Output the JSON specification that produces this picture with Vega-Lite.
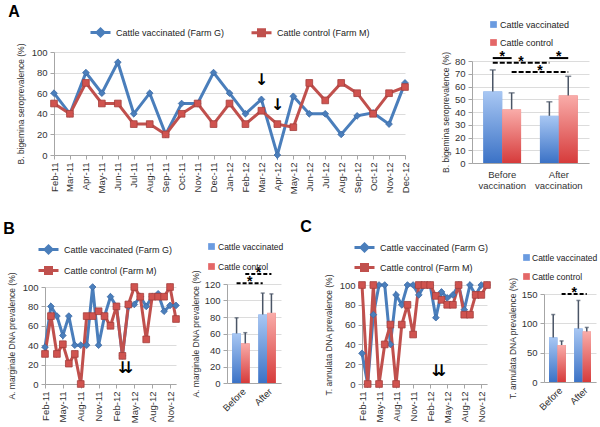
{
"$schema": "https://vega.github.io/schema/vega-lite/v6.json",
"background": "white",
"padding": {"left": 3, "top": 4, "right": 5, "bottom": 5},
"config": {
  "font": "Liberation Sans",
  "view": {"stroke": null},
  "axis": {"labelFontSize": 9.5, "titleFontSize": 8.5, "titleFontWeight": "normal", "labelColor": "#333", "titleColor": "#333", "domainColor": "#a6a6a6", "tickColor": "#a6a6a6", "gridColor": "#dcdcdc", "labelPadding": 3, "tickSize": 4, "labelOverlap": false, "labelBound": false, "labelFlush": false},
  "legend": {"labelFontSize": 9, "labelColor": "#222", "padding": 0},
  "title": {"fontSize": 16, "fontWeight": "bold", "anchor": "start", "frame": "bounds", "color": "#000", "offset": 6}
},
"datasets": {
  "a": [
    {"month":"Feb-11","series":"Cattle vaccinated (Farm G)","value":60},{"month":"Mar-11","series":"Cattle vaccinated (Farm G)","value":40},{"month":"Apr-11","series":"Cattle vaccinated (Farm G)","value":80},{"month":"May-11","series":"Cattle vaccinated (Farm G)","value":60},{"month":"Jun-11","series":"Cattle vaccinated (Farm G)","value":90},{"month":"Jul-11","series":"Cattle vaccinated (Farm G)","value":40},{"month":"Aug-11","series":"Cattle vaccinated (Farm G)","value":60},{"month":"Sep-11","series":"Cattle vaccinated (Farm G)","value":20},{"month":"Oct-11","series":"Cattle vaccinated (Farm G)","value":50},{"month":"Nov-11","series":"Cattle vaccinated (Farm G)","value":50},{"month":"Dec-11","series":"Cattle vaccinated (Farm G)","value":80},{"month":"Jan-12","series":"Cattle vaccinated (Farm G)","value":60},{"month":"Feb-12","series":"Cattle vaccinated (Farm G)","value":40},{"month":"Mar-12","series":"Cattle vaccinated (Farm G)","value":54},{"month":"Apr-12","series":"Cattle vaccinated (Farm G)","value":0},{"month":"May-12","series":"Cattle vaccinated (Farm G)","value":57},{"month":"Jun-12","series":"Cattle vaccinated (Farm G)","value":40},{"month":"Jul-12","series":"Cattle vaccinated (Farm G)","value":40},{"month":"Aug-12","series":"Cattle vaccinated (Farm G)","value":20},{"month":"Sep-12","series":"Cattle vaccinated (Farm G)","value":38},{"month":"Oct-12","series":"Cattle vaccinated (Farm G)","value":41},{"month":"Nov-12","series":"Cattle vaccinated (Farm G)","value":30},{"month":"Dec-12","series":"Cattle vaccinated (Farm G)","value":70},
    {"month":"Feb-11","series":"Cattle control (Farm M)","value":50},{"month":"Mar-11","series":"Cattle control (Farm M)","value":40},{"month":"Apr-11","series":"Cattle control (Farm M)","value":70},{"month":"May-11","series":"Cattle control (Farm M)","value":50},{"month":"Jun-11","series":"Cattle control (Farm M)","value":50},{"month":"Jul-11","series":"Cattle control (Farm M)","value":30},{"month":"Aug-11","series":"Cattle control (Farm M)","value":30},{"month":"Sep-11","series":"Cattle control (Farm M)","value":20},{"month":"Oct-11","series":"Cattle control (Farm M)","value":40},{"month":"Nov-11","series":"Cattle control (Farm M)","value":50},{"month":"Dec-11","series":"Cattle control (Farm M)","value":30},{"month":"Jan-12","series":"Cattle control (Farm M)","value":50},{"month":"Feb-12","series":"Cattle control (Farm M)","value":30},{"month":"Mar-12","series":"Cattle control (Farm M)","value":43},{"month":"Apr-12","series":"Cattle control (Farm M)","value":30},{"month":"May-12","series":"Cattle control (Farm M)","value":27},{"month":"Jun-12","series":"Cattle control (Farm M)","value":70},{"month":"Jul-12","series":"Cattle control (Farm M)","value":53},{"month":"Aug-12","series":"Cattle control (Farm M)","value":70},{"month":"Sep-12","series":"Cattle control (Farm M)","value":60},{"month":"Oct-12","series":"Cattle control (Farm M)","value":40},{"month":"Nov-12","series":"Cattle control (Farm M)","value":60},{"month":"Dec-12","series":"Cattle control (Farm M)","value":66}
  ],
  "b": [
    {"month":"Feb-11","series":"Cattle vaccinated (Farm G)","value":38},{"month":"Mar-11","series":"Cattle vaccinated (Farm G)","value":80},{"month":"Apr-11","series":"Cattle vaccinated (Farm G)","value":70},{"month":"May-11","series":"Cattle vaccinated (Farm G)","value":50},{"month":"Jun-11","series":"Cattle vaccinated (Farm G)","value":70},{"month":"Jul-11","series":"Cattle vaccinated (Farm G)","value":40},{"month":"Aug-11","series":"Cattle vaccinated (Farm G)","value":40},{"month":"Sep-11","series":"Cattle vaccinated (Farm G)","value":40},{"month":"Oct-11","series":"Cattle vaccinated (Farm G)","value":100},{"month":"Nov-11","series":"Cattle vaccinated (Farm G)","value":40},{"month":"Dec-11","series":"Cattle vaccinated (Farm G)","value":70},{"month":"Jan-12","series":"Cattle vaccinated (Farm G)","value":90},{"month":"Feb-12","series":"Cattle vaccinated (Farm G)","value":80},{"month":"Mar-12","series":"Cattle vaccinated (Farm G)","value":29},{"month":"Apr-12","series":"Cattle vaccinated (Farm G)","value":80},{"month":"May-12","series":"Cattle vaccinated (Farm G)","value":82},{"month":"Jun-12","series":"Cattle vaccinated (Farm G)","value":90},{"month":"Jul-12","series":"Cattle vaccinated (Farm G)","value":80},{"month":"Aug-12","series":"Cattle vaccinated (Farm G)","value":90},{"month":"Sep-12","series":"Cattle vaccinated (Farm G)","value":93},{"month":"Oct-12","series":"Cattle vaccinated (Farm G)","value":75},{"month":"Nov-12","series":"Cattle vaccinated (Farm G)","value":81},{"month":"Dec-12","series":"Cattle vaccinated (Farm G)","value":81},
    {"month":"Feb-11","series":"Cattle control (Farm M)","value":31},{"month":"Mar-11","series":"Cattle control (Farm M)","value":70},{"month":"Apr-11","series":"Cattle control (Farm M)","value":31},{"month":"May-11","series":"Cattle control (Farm M)","value":41},{"month":"Jun-11","series":"Cattle control (Farm M)","value":21},{"month":"Jul-11","series":"Cattle control (Farm M)","value":31},{"month":"Aug-11","series":"Cattle control (Farm M)","value":0},{"month":"Sep-11","series":"Cattle control (Farm M)","value":70},{"month":"Oct-11","series":"Cattle control (Farm M)","value":70},{"month":"Nov-11","series":"Cattle control (Farm M)","value":75},{"month":"Dec-11","series":"Cattle control (Farm M)","value":70},{"month":"Jan-12","series":"Cattle control (Farm M)","value":60},{"month":"Feb-12","series":"Cattle control (Farm M)","value":80},{"month":"Mar-12","series":"Cattle control (Farm M)","value":29},{"month":"Apr-12","series":"Cattle control (Farm M)","value":82},{"month":"May-12","series":"Cattle control (Farm M)","value":100},{"month":"Jun-12","series":"Cattle control (Farm M)","value":90},{"month":"Jul-12","series":"Cattle control (Farm M)","value":46},{"month":"Aug-12","series":"Cattle control (Farm M)","value":90},{"month":"Sep-12","series":"Cattle control (Farm M)","value":90},{"month":"Oct-12","series":"Cattle control (Farm M)","value":90},{"month":"Nov-12","series":"Cattle control (Farm M)","value":100},{"month":"Dec-12","series":"Cattle control (Farm M)","value":67}
  ],
  "c": [
    {"month":"Feb-11","series":"Cattle vaccinated (Farm G)","value":31},{"month":"Mar-11","series":"Cattle vaccinated (Farm G)","value":0},{"month":"Apr-11","series":"Cattle vaccinated (Farm G)","value":70},{"month":"May-11","series":"Cattle vaccinated (Farm G)","value":100},{"month":"Jun-11","series":"Cattle vaccinated (Farm G)","value":100},{"month":"Jul-11","series":"Cattle vaccinated (Farm G)","value":40},{"month":"Aug-11","series":"Cattle vaccinated (Farm G)","value":90},{"month":"Sep-11","series":"Cattle vaccinated (Farm G)","value":80},{"month":"Oct-11","series":"Cattle vaccinated (Farm G)","value":100},{"month":"Nov-11","series":"Cattle vaccinated (Farm G)","value":100},{"month":"Dec-11","series":"Cattle vaccinated (Farm G)","value":90},{"month":"Jan-12","series":"Cattle vaccinated (Farm G)","value":100},{"month":"Feb-12","series":"Cattle vaccinated (Farm G)","value":100},{"month":"Mar-12","series":"Cattle vaccinated (Farm G)","value":67},{"month":"Apr-12","series":"Cattle vaccinated (Farm G)","value":93},{"month":"May-12","series":"Cattle vaccinated (Farm G)","value":87},{"month":"Jun-12","series":"Cattle vaccinated (Farm G)","value":90},{"month":"Jul-12","series":"Cattle vaccinated (Farm G)","value":100},{"month":"Aug-12","series":"Cattle vaccinated (Farm G)","value":75},{"month":"Sep-12","series":"Cattle vaccinated (Farm G)","value":100},{"month":"Oct-12","series":"Cattle vaccinated (Farm G)","value":90},{"month":"Nov-12","series":"Cattle vaccinated (Farm G)","value":100},{"month":"Dec-12","series":"Cattle vaccinated (Farm G)","value":100},
    {"month":"Feb-11","series":"Cattle control (Farm M)","value":100},{"month":"Mar-11","series":"Cattle control (Farm M)","value":0},{"month":"Apr-11","series":"Cattle control (Farm M)","value":100},{"month":"May-11","series":"Cattle control (Farm M)","value":0},{"month":"Jun-11","series":"Cattle control (Farm M)","value":40},{"month":"Jul-11","series":"Cattle control (Farm M)","value":60},{"month":"Aug-11","series":"Cattle control (Farm M)","value":0},{"month":"Sep-11","series":"Cattle control (Farm M)","value":60},{"month":"Oct-11","series":"Cattle control (Farm M)","value":80},{"month":"Nov-11","series":"Cattle control (Farm M)","value":50},{"month":"Dec-11","series":"Cattle control (Farm M)","value":100},{"month":"Jan-12","series":"Cattle control (Farm M)","value":100},{"month":"Feb-12","series":"Cattle control (Farm M)","value":100},{"month":"Mar-12","series":"Cattle control (Farm M)","value":89},{"month":"Apr-12","series":"Cattle control (Farm M)","value":85},{"month":"May-12","series":"Cattle control (Farm M)","value":80},{"month":"Jun-12","series":"Cattle control (Farm M)","value":80},{"month":"Jul-12","series":"Cattle control (Farm M)","value":100},{"month":"Aug-12","series":"Cattle control (Farm M)","value":70},{"month":"Sep-12","series":"Cattle control (Farm M)","value":70},{"month":"Oct-12","series":"Cattle control (Farm M)","value":90},{"month":"Nov-12","series":"Cattle control (Farm M)","value":90},{"month":"Dec-12","series":"Cattle control (Farm M)","value":100}
  ],
  "arrA": [{"month":"Mar-12","value":73},{"month":"Apr-12","value":49}],
  "arrB": [{"month":"Mar-12","value":16},{"month":"Apr-12","value":16}],
  "arrC": [{"month":"Mar-12","value":13},{"month":"Apr-12","value":13}],
  "abar": [
    {"slot":"Bv","series":"Cattle vaccinated","value":56,"upper":73},
    {"slot":"Bc","series":"Cattle control","value":42,"upper":55},
    {"slot":"Av","series":"Cattle vaccinated","value":37,"upper":48},
    {"slot":"Ac","series":"Cattle control","value":53,"upper":68}
  ],
  "bbar": [
    {"slot":"Bv","series":"Cattle vaccinated","value":60,"upper":79},
    {"slot":"Bc","series":"Cattle control","value":48,"upper":61},
    {"slot":"Av","series":"Cattle vaccinated","value":83,"upper":109},
    {"slot":"Ac","series":"Cattle control","value":85,"upper":108}
  ],
  "cbar": [
    {"slot":"Bv","series":"Cattle vaccinated","value":76,"upper":115},
    {"slot":"Bc","series":"Cattle control","value":63,"upper":70},
    {"slot":"Av","series":"Cattle vaccinated","value":91,"upper":139},
    {"slot":"Ac","series":"Cattle control","value":86,"upper":93}
  ],
  "asig": [
    {"from":"Bv","to":"Bc","value":82.3,"kind":"solid"},
    {"from":"Av","to":"Ac","value":82.3,"kind":"solid"},
    {"from":"Bv","to":"Av","value":78.7,"kind":"dashed"},
    {"from":"Bc","to":"Ac","value":71.4,"kind":"dashed"}
  ],
  "astar": [{"at":"Bv","value":82.3},{"at":"Av","value":82.3},{"at":"Bc","value":78.7},{"at":"gap","value":71.4}],
  "bsig": [
    {"from":"Bv","to":"Av","value":121,"kind":"dashed"},
    {"from":"Bc","to":"Ac","value":132,"kind":"dashed"}
  ],
  "bstar": [{"at":"Bc","value":121},{"at":"gap","value":132}],
  "csig": [{"from":"Bc","to":"Ac","value":150,"kind":"dashed"}],
  "cstar": [{"at":"gap","value":150}]
},
"vconcat": [
 {
  "hconcat": [
  {
    "title": {"text": "A", "dx": -8},
    "width": 376, "height": 111,
    "encoding": {
      "x": {"field": "month", "type": "ordinal", "scale": {"type": "point", "padding": 0, "range": [9, 360], "domain": ["Feb-11","Mar-11","Apr-11","May-11","Jun-11","Jul-11","Aug-11","Sep-11","Oct-11","Nov-11","Dec-11","Jan-12","Feb-12","Mar-12","Apr-12","May-12","Jun-12","Jul-12","Aug-12","Sep-12","Oct-12","Nov-12","Dec-12"]}, "axis": {"title": null, "labelAngle": -90, "grid": false, "offset": -8, "labelOverlap": false}},
      "y": {"field": "value", "type": "quantitative", "scale": {"domain": [0, 100], "range": [103, 0]}, "axis": {"title": "B. bigemina seroprevalence (%)", "values": [0,20,40,60,80,100], "grid": true, "titlePadding": 6, "offset": -9, "labelOverlap": false}}
    },
    "layer": [
      {"data": {"name": "a"}, "mark": {"type": "line", "strokeWidth": 3},
       "encoding": {
         "color": {"field": "series", "type": "nominal", "scale": {"domain": ["Cattle vaccinated (Farm G)", "Cattle control (Farm M)"], "range": ["#4a7ebb", "#c0504d"]},
           "legend": {"orient": "none", "legendX": 49, "legendY": -26, "direction": "horizontal", "title": null, "symbolSize": 100, "symbolStrokeWidth": 3, "columnPadding": 20, "labelOffset": 9,
             "encode": {"symbols": {"update": {
               "shape": {"signal": "datum.value === 'Cattle vaccinated (Farm G)' ? 'M-2,0H2M0,-0.7L0.7,0L0,0.7L-0.7,0Z' : 'M-2,0H2M-0.6,-0.6H0.6V0.6H-0.6Z'"},
               "fill": {"signal": "datum.value === 'Cattle vaccinated (Farm G)' ? '#4a7ebb' : '#c0504d'"},
               "stroke": {"signal": "datum.value === 'Cattle vaccinated (Farm G)' ? '#4a7ebb' : '#c0504d'"},
               "opacity": {"value": 1}}}}}}
       }},
      {"data": {"name": "a"}, "transform": [{"filter": "datum.series === 'Cattle vaccinated (Farm G)'"}], "mark": {"type": "point", "shape": "diamond", "filled": true, "opacity": 1, "size": 45, "color": "#4a7ebb", "stroke": "#3d6ba6", "strokeWidth": 0.8}},
      {"data": {"name": "a"}, "transform": [{"filter": "datum.series === 'Cattle control (Farm M)'"}], "mark": {"type": "point", "shape": "square", "filled": true, "opacity": 1, "size": 45, "color": "#d0534f", "stroke": "#a33f3c", "strokeWidth": 0.8}},
      {"data": {"name": "arrA"}, "mark": {"type": "text", "text": "↓", "font": "DejaVu Sans", "fontWeight": "bold", "fontSize": 16, "color": "black", "baseline": "middle"}}
    ]
  },
  {
    "width": 117, "height": 111,
    "encoding": {
      "y": {"field": "value", "type": "quantitative", "scale": {"domain": [0, 80], "range": [111, 9]}, "axis": {"title": "B. bigemina seroprevalence (%)", "values": [0,10,20,30,40,50,60,70,80], "grid": true, "labelOverlap": false}}
    },
    "layer": [
      {"data": {"name": "abar"}, "mark": {"type": "bar"},
       "encoding": {
         "x": {"field": "slot", "type": "nominal", "scale": {"domain": ["Bv","Bc","gap","Av","Ac"], "paddingInner": 0, "paddingOuter": 0.6}, "axis": {"title": null, "ticks": false, "labelAngle": 0, "labelOffset": -9.4, "labelPadding": 6, "labelOverlap": false, "labelExpr": "datum.value === 'Bc' ? ['Before', 'vaccination'] : datum.value === 'Ac' ? ['After', 'vaccination'] : ''"}},
         "color": {"field": "series", "type": "nominal", "scale": {"domain": ["Cattle vaccinated", "Cattle control"], "range": ["#6a9be0", "#e46767"]},
           "legend": {"orient": "none", "legendX": 17, "legendY": -32, "direction": "vertical", "title": null, "symbolType": "square", "symbolSize": 45, "rowPadding": 8, "labelOffset": 2}}
       }},
      {"data": {"name": "abar"}, "mark": {"type": "bar"},
       "encoding": {
         "x": {"field": "slot", "type": "nominal", "scale": {"domain": ["Bv","Bc","gap","Av","Ac"], "paddingInner": 0, "paddingOuter": 0.6}},
         "fill": {"condition": {"test": "datum.series === 'Cattle vaccinated'", "value": {"gradient": "linear", "x1": 0, "y1": 0, "x2": 0, "y2": 1, "stops": [{"offset": 0, "color": "#a8c7f3"}, {"offset": 1, "color": "#3b72c6"}]}},
                  "value": {"gradient": "linear", "x1": 0, "y1": 0, "x2": 0, "y2": 1, "stops": [{"offset": 0, "color": "#f9aca9"}, {"offset": 1, "color": "#d63b3b"}]}}
       }},
      {"data": {"name": "abar"}, "mark": {"type": "rule", "color": "#4a5566", "strokeWidth": 1.5},
       "encoding": {
         "x": {"field": "slot", "type": "nominal", "scale": {"domain": ["Bv","Bc","gap","Av","Ac"], "paddingInner": 0, "paddingOuter": 0.6}},
         "y2": {"field": "upper"}
       }},
      {"data": {"name": "abar"}, "transform": [{"fold": ["upper"], "as": ["key", "value"]}], "mark": {"type": "tick", "color": "#4a5566", "thickness": 1.5, "size": 6},
       "encoding": {
         "x": {"field": "slot", "type": "nominal", "scale": {"domain": ["Bv","Bc","gap","Av","Ac"], "paddingInner": 0, "paddingOuter": 0.6}}
       }},
      {"data": {"name": "asig"}, "transform": [{"filter": "datum.kind === 'solid'"}], "mark": {"type": "rule", "color": "black", "strokeWidth": 2},
       "encoding": {
         "x": {"field": "from", "type": "nominal", "bandPosition": 0.5, "scale": {"domain": ["Bv","Bc","gap","Av","Ac"], "paddingInner": 0, "paddingOuter": 0.6}},
         "x2": {"field": "to", "bandPosition": 0.5}
       }},
      {"data": {"name": "asig"}, "transform": [{"filter": "datum.kind === 'dashed'"}], "mark": {"type": "rule", "color": "black", "strokeWidth": 2, "strokeDash": [5, 2]},
       "encoding": {
         "x": {"field": "from", "type": "nominal", "bandPosition": 0.5, "scale": {"domain": ["Bv","Bc","gap","Av","Ac"], "paddingInner": 0, "paddingOuter": 0.6}},
         "x2": {"field": "to", "bandPosition": 0.5}
       }},
      {"data": {"name": "astar"}, "mark": {"type": "text", "text": "*", "fontSize": 14, "fontWeight": "bold", "baseline": "middle", "dy": -1, "color": "black"},
       "encoding": {
         "x": {"field": "at", "type": "nominal", "bandPosition": 1, "scale": {"domain": ["Bv","Bc","gap","Av","Ac"], "paddingInner": 0, "paddingOuter": 0.6}}
       }}
    ]
  }
  ],
  "spacing": 51, "bounds": "flush",
  "resolve": {"scale": {"color": "independent"}, "legend": {"color": "independent"}}
 },
 {
  "hconcat": [
  {
    "title": {"text": "B", "dx": -4},
    "width": 131, "height": 100,
    "encoding": {
      "x": {"field": "month", "type": "ordinal", "scale": {"type": "point", "padding": 0, "domain": ["Feb-11","Mar-11","Apr-11","May-11","Jun-11","Jul-11","Aug-11","Sep-11","Oct-11","Nov-11","Dec-11","Jan-12","Feb-12","Mar-12","Apr-12","May-12","Jun-12","Jul-12","Aug-12","Sep-12","Oct-12","Nov-12","Dec-12"]}, "axis": {"title": null, "labelAngle": -90, "grid": false, "labelOverlap": false, "values": ["Feb-11","May-11","Aug-11","Nov-11","Feb-12","May-12","Aug-12","Nov-12"]}},
      "y": {"field": "value", "type": "quantitative", "scale": {"domain": [0, 100], "range": [100, 3]}, "axis": {"title": "A. marginale DNA prevalence (%)", "values": [0,20,40,60,80,100], "grid": true, "titlePadding": 6, "labelOverlap": false}}
    },
    "layer": [
      {"data": {"name": "b"}, "mark": {"type": "line", "strokeWidth": 3},
       "encoding": {
         "color": {"field": "series", "type": "nominal", "scale": {"domain": ["Cattle vaccinated (Farm G)", "Cattle control (Farm M)"], "range": ["#4a7ebb", "#c0504d"]},
           "legend": {"orient": "none", "legendX": -3, "legendY": -41, "direction": "vertical", "title": null, "symbolSize": 100, "symbolStrokeWidth": 3, "rowPadding": 2, "labelOffset": 9,
             "encode": {"symbols": {"update": {
               "shape": {"signal": "datum.value === 'Cattle vaccinated (Farm G)' ? 'M-2,0H2M0,-0.7L0.7,0L0,0.7L-0.7,0Z' : 'M-2,0H2M-0.6,-0.6H0.6V0.6H-0.6Z'"},
               "fill": {"signal": "datum.value === 'Cattle vaccinated (Farm G)' ? '#4a7ebb' : '#c0504d'"},
               "stroke": {"signal": "datum.value === 'Cattle vaccinated (Farm G)' ? '#4a7ebb' : '#c0504d'"},
               "opacity": {"value": 1}}}}}}
       }},
      {"data": {"name": "b"}, "transform": [{"filter": "datum.series === 'Cattle vaccinated (Farm G)'"}], "mark": {"type": "point", "shape": "diamond", "filled": true, "opacity": 1, "size": 45, "color": "#4a7ebb", "stroke": "#3d6ba6", "strokeWidth": 0.8}},
      {"data": {"name": "b"}, "transform": [{"filter": "datum.series === 'Cattle control (Farm M)'"}], "mark": {"type": "point", "shape": "square", "filled": true, "opacity": 1, "size": 45, "color": "#d0534f", "stroke": "#a33f3c", "strokeWidth": 0.8}},
      {"data": {"name": "arrB"}, "mark": {"type": "text", "text": "↓", "font": "DejaVu Sans", "fontWeight": "bold", "fontSize": 16, "color": "black", "baseline": "middle"}}
    ]
  },
  {
    "width": 84, "height": 99,
    "encoding": {
      "y": {"field": "value", "type": "quantitative", "scale": {"domain": [0, 120]}, "axis": {"title": "A. marginale DNA prevalence (%)", "values": [0,20,40,60,80,100,120], "grid": true, "labelOverlap": false}}
    },
    "layer": [
      {"data": {"name": "bbar"}, "mark": {"type": "bar"},
       "encoding": {
         "x": {"field": "slot", "type": "nominal", "scale": {"domain": ["Bv","Bc","gap","Av","Ac"], "range": [0, 54], "paddingInner": 0, "paddingOuter": 0.6}, "axis": {"title": null, "ticks": false, "labelAngle": -45, "labelAlign": "right", "labelOffset": -4.4, "labelOverlap": false, "labelExpr": "datum.value === 'Bc' ? 'Before' : datum.value === 'Ac' ? 'After' : ''"}},
         "color": {"field": "series", "type": "nominal", "scale": {"domain": ["Cattle vaccinated", "Cattle control"], "range": ["#6a9be0", "#e46767"]},
           "legend": {"orient": "none", "legendX": -20, "legendY": -42, "direction": "vertical", "title": null, "symbolType": "square", "symbolSize": 45, "rowPadding": 11, "labelOffset": 2, "labelFontSize": 8.5}}
       }},
      {"data": {"name": "bbar"}, "mark": {"type": "bar"},
       "encoding": {
         "x": {"field": "slot", "type": "nominal", "scale": {"domain": ["Bv","Bc","gap","Av","Ac"], "range": [0, 54], "paddingInner": 0, "paddingOuter": 0.6}},
         "fill": {"condition": {"test": "datum.series === 'Cattle vaccinated'", "value": {"gradient": "linear", "x1": 0, "y1": 0, "x2": 0, "y2": 1, "stops": [{"offset": 0, "color": "#a8c7f3"}, {"offset": 1, "color": "#3b72c6"}]}},
                  "value": {"gradient": "linear", "x1": 0, "y1": 0, "x2": 0, "y2": 1, "stops": [{"offset": 0, "color": "#f9aca9"}, {"offset": 1, "color": "#d63b3b"}]}}
       }},
      {"data": {"name": "bbar"}, "mark": {"type": "rule", "color": "#4a5566", "strokeWidth": 1.5},
       "encoding": {
         "x": {"field": "slot", "type": "nominal", "scale": {"domain": ["Bv","Bc","gap","Av","Ac"], "range": [0, 54], "paddingInner": 0, "paddingOuter": 0.6}},
         "y2": {"field": "upper"}
       }},
      {"data": {"name": "bbar"}, "transform": [{"fold": ["upper"], "as": ["key", "value"]}], "mark": {"type": "tick", "color": "#4a5566", "thickness": 1.5, "size": 4},
       "encoding": {
         "x": {"field": "slot", "type": "nominal", "scale": {"domain": ["Bv","Bc","gap","Av","Ac"], "range": [0, 54], "paddingInner": 0, "paddingOuter": 0.6}}
       }},
      {"data": {"name": "bsig"}, "mark": {"type": "rule", "color": "black", "strokeWidth": 2, "strokeDash": [4, 2]},
       "encoding": {
         "x": {"field": "from", "type": "nominal", "bandPosition": 0.5, "scale": {"domain": ["Bv","Bc","gap","Av","Ac"], "range": [0, 54], "paddingInner": 0, "paddingOuter": 0.6}},
         "x2": {"field": "to", "bandPosition": 0.5}
       }},
      {"data": {"name": "bstar"}, "mark": {"type": "text", "text": "*", "fontSize": 14, "fontWeight": "bold", "baseline": "middle", "dy": -1, "color": "black"},
       "encoding": {
         "x": {"field": "at", "type": "nominal", "bandPosition": 1, "scale": {"domain": ["Bv","Bc","gap","Av","Ac"], "range": [0, 54], "paddingInner": 0, "paddingOuter": 0.6}}
       }}
    ]
  },
  {
    "title": {"text": "C", "dx": -24},
    "width": 131, "height": 100,
    "encoding": {
      "x": {"field": "month", "type": "ordinal", "scale": {"type": "point", "padding": 0, "range": [0, 125], "domain": ["Feb-11","Mar-11","Apr-11","May-11","Jun-11","Jul-11","Aug-11","Sep-11","Oct-11","Nov-11","Dec-11","Jan-12","Feb-12","Mar-12","Apr-12","May-12","Jun-12","Jul-12","Aug-12","Sep-12","Oct-12","Nov-12","Dec-12"]}, "axis": {"title": null, "labelAngle": -90, "grid": false, "labelOverlap": false, "values": ["Feb-11","May-11","Aug-11","Nov-11","Feb-12","May-12","Aug-12","Nov-12"]}},
      "y": {"field": "value", "type": "quantitative", "scale": {"domain": [0, 100], "range": [100, 1]}, "axis": {"title": "T. annulata DNA prevalence (%)", "values": [0,20,40,60,80,100], "grid": true, "titlePadding": 6, "labelOverlap": false}}
    },
    "layer": [
      {"data": {"name": "c"}, "mark": {"type": "line", "strokeWidth": 3},
       "encoding": {
         "color": {"field": "series", "type": "nominal", "scale": {"domain": ["Cattle vaccinated (Farm G)", "Cattle control (Farm M)"], "range": ["#4a7ebb", "#c0504d"]},
           "legend": {"orient": "none", "legendX": -4, "legendY": -43, "direction": "vertical", "title": null, "symbolSize": 100, "symbolStrokeWidth": 3, "rowPadding": 1, "labelOffset": 9,
             "encode": {"symbols": {"update": {
               "shape": {"signal": "datum.value === 'Cattle vaccinated (Farm G)' ? 'M-2,0H2M0,-0.7L0.7,0L0,0.7L-0.7,0Z' : 'M-2,0H2M-0.6,-0.6H0.6V0.6H-0.6Z'"},
               "fill": {"signal": "datum.value === 'Cattle vaccinated (Farm G)' ? '#4a7ebb' : '#c0504d'"},
               "stroke": {"signal": "datum.value === 'Cattle vaccinated (Farm G)' ? '#4a7ebb' : '#c0504d'"},
               "opacity": {"value": 1}}}}}}
       }},
      {"data": {"name": "c"}, "transform": [{"filter": "datum.series === 'Cattle vaccinated (Farm G)'"}], "mark": {"type": "point", "shape": "diamond", "filled": true, "opacity": 1, "size": 45, "color": "#4a7ebb", "stroke": "#3d6ba6", "strokeWidth": 0.8}},
      {"data": {"name": "c"}, "transform": [{"filter": "datum.series === 'Cattle control (Farm M)'"}], "mark": {"type": "point", "shape": "square", "filled": true, "opacity": 1, "size": 45, "color": "#d0534f", "stroke": "#a33f3c", "strokeWidth": 0.8}},
      {"data": {"name": "arrC"}, "mark": {"type": "text", "text": "↓", "font": "DejaVu Sans", "fontWeight": "bold", "fontSize": 16, "color": "black", "baseline": "middle"}}
    ]
  },
  {
    "width": 52, "height": 98,
    "encoding": {
      "y": {"field": "value", "type": "quantitative", "scale": {"domain": [0, 150], "range": [98, 10]}, "axis": {"title": "T. annulata DNA prevalence (%)", "values": [0,50,100,150], "grid": true, "labelOverlap": false}}
    },
    "layer": [
      {"data": {"name": "cbar"}, "mark": {"type": "bar"},
       "encoding": {
         "x": {"field": "slot", "type": "nominal", "scale": {"domain": ["Bv","Bc","gap","Av","Ac"], "paddingInner": 0, "paddingOuter": 0.6}, "axis": {"title": null, "ticks": false, "labelAngle": -45, "labelAlign": "right", "labelOffset": -4.2, "labelOverlap": false, "labelExpr": "datum.value === 'Bc' ? 'Before' : datum.value === 'Ac' ? 'After' : ''"}},
         "color": {"field": "series", "type": "nominal", "scale": {"domain": ["Cattle vaccinated", "Cattle control"], "range": ["#6a9be0", "#e46767"]},
           "legend": {"orient": "none", "legendX": -22, "legendY": -31, "direction": "vertical", "title": null, "symbolType": "square", "symbolSize": 45, "rowPadding": 10, "labelOffset": 1, "labelFontSize": 8.5}}
       }},
      {"data": {"name": "cbar"}, "mark": {"type": "bar"},
       "encoding": {
         "x": {"field": "slot", "type": "nominal", "scale": {"domain": ["Bv","Bc","gap","Av","Ac"], "paddingInner": 0, "paddingOuter": 0.6}},
         "fill": {"condition": {"test": "datum.series === 'Cattle vaccinated'", "value": {"gradient": "linear", "x1": 0, "y1": 0, "x2": 0, "y2": 1, "stops": [{"offset": 0, "color": "#a8c7f3"}, {"offset": 1, "color": "#3b72c6"}]}},
                  "value": {"gradient": "linear", "x1": 0, "y1": 0, "x2": 0, "y2": 1, "stops": [{"offset": 0, "color": "#f9aca9"}, {"offset": 1, "color": "#d63b3b"}]}}
       }},
      {"data": {"name": "cbar"}, "mark": {"type": "rule", "color": "#4a5566", "strokeWidth": 1.5},
       "encoding": {
         "x": {"field": "slot", "type": "nominal", "scale": {"domain": ["Bv","Bc","gap","Av","Ac"], "paddingInner": 0, "paddingOuter": 0.6}},
         "y2": {"field": "upper"}
       }},
      {"data": {"name": "cbar"}, "transform": [{"fold": ["upper"], "as": ["key", "value"]}], "mark": {"type": "tick", "color": "#4a5566", "thickness": 1.5, "size": 4},
       "encoding": {
         "x": {"field": "slot", "type": "nominal", "scale": {"domain": ["Bv","Bc","gap","Av","Ac"], "paddingInner": 0, "paddingOuter": 0.6}}
       }},
      {"data": {"name": "csig"}, "mark": {"type": "rule", "color": "black", "strokeWidth": 2, "strokeDash": [4, 2]},
       "encoding": {
         "x": {"field": "from", "type": "nominal", "bandPosition": 0.5, "scale": {"domain": ["Bv","Bc","gap","Av","Ac"], "paddingInner": 0, "paddingOuter": 0.6}},
         "x2": {"field": "to", "bandPosition": 0.5}
       }},
      {"data": {"name": "cstar"}, "mark": {"type": "text", "text": "*", "fontSize": 14, "fontWeight": "bold", "baseline": "middle", "dy": -1, "color": "black"},
       "encoding": {
         "x": {"field": "at", "type": "nominal", "bandPosition": 1, "scale": {"domain": ["Bv","Bc","gap","Av","Ac"], "paddingInner": 0, "paddingOuter": 0.6}}
       }}
    ]
  }
  ],
  "spacing": 51, "bounds": "flush",
  "resolve": {"scale": {"color": "independent"}, "legend": {"color": "independent"}}
 }
],
"spacing": 232,
"bounds": "flush",
"resolve": {"scale": {"color": "independent"}, "legend": {"color": "independent"}}
}
